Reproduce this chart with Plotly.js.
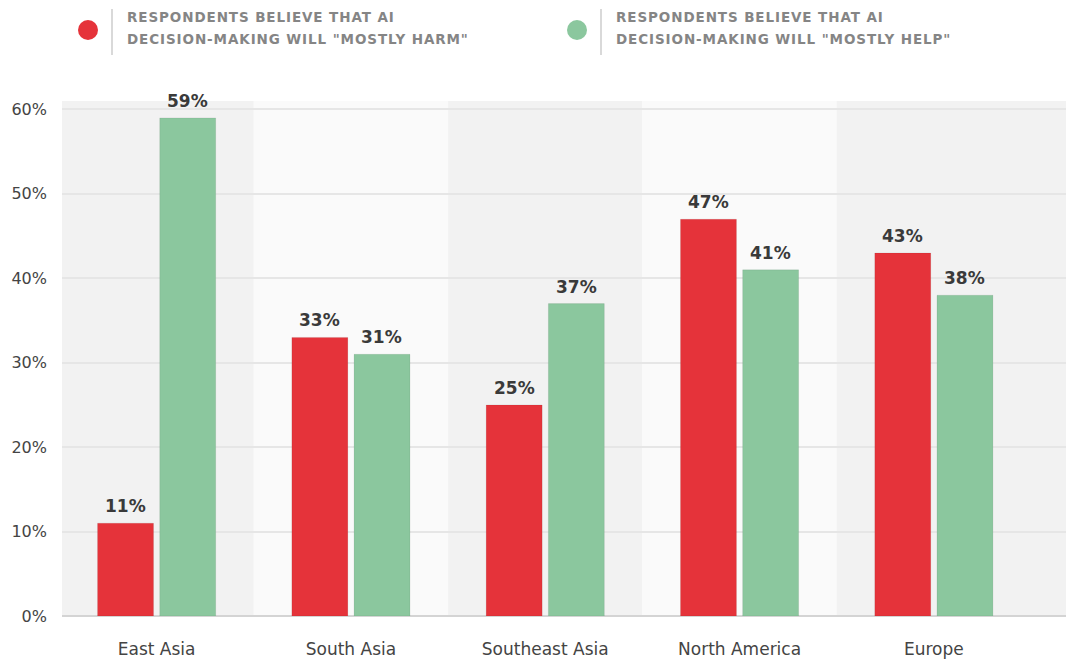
<!DOCTYPE html>
<html>
<head>
<meta charset="utf-8">
<script src="https://cdn.plot.ly/plotly-3.0.1.min.js"></script>
<style>html,body{margin:0;padding:0;background:#fff;}#chart{width:1068px;height:663px;}</style>
</head>
<body>
<div id="chart"></div>
<script>
const categories = ["East Asia", "South Asia", "Southeast Asia", "North America", "Europe"];
const harmValues = [11, 33, 25, 47, 43];
const helpValues = [59, 31, 37, 41, 38];
const seriesNames = [
  ['RESPONDENTS BELIEVE THAT AI', 'DECISION-MAKING WILL "MOSTLY HARM"'],
  ['RESPONDENTS BELIEVE THAT AI', 'DECISION-MAKING WILL "MOSTLY HELP"']
];
const tickVals = [0, 10, 20, 30, 40, 50, 60];
const tickText = ["0%", "10%", "20%", "30%", "40%", "50%", "60%"];
const colors = ["#e5333a", "#8bc79e"];

const FONT = "'DejaVu Sans', Lato, sans-serif";

const traces = [harmValues, helpValues].map((vals, i) => ({
  type: "bar",
  name: seriesNames[i].join(" "),
  x: categories,
  y: vals,
  marker: {color: colors[i], line: {color: "rgba(0,0,0,0.07)", width: 1}},
  hoverinfo: "skip",
  showlegend: false
}));

const shapes = [];
const annotations = [];
categories.forEach((c, i) => {
  shapes.push({
    type: "rect", xref: "x", yref: "paper", layer: "below",
    x0: i - 0.5, x1: (i === categories.length - 1) ? 4.8 : i + 0.5, y0: 0, y1: 1,
    fillcolor: i % 2 === 0 ? "#f2f2f2" : "#fafafa", line: {width: 0}
  });
});

// value labels above each bar
[harmValues, helpValues].forEach((vals, s) => {
  vals.forEach((v, i) => {
    annotations.push({
      xref: "x", yref: "y", x: categories[i], y: v,
      xshift: s === 0 ? -31 : 31, yshift: 5,
      xanchor: "center", yanchor: "bottom", showarrow: false,
      text: v + "%",
      font: {family: FONT, size: 17, color: "#3a3a3a", weight: 700}
    });
  });
});

const W = 1068, H = 663, L = 62, R = 2, T = 101, B = 47;
const pw = W - L - R, ph = H - T - B;
const px = x => (x - L) / pw;
const py = y => 1 - (y - T) / ph;
const legendX = [88, 577];
legendX.forEach((lx, i) => {
  shapes.push({type: "circle", xref: "paper", yref: "paper",
    x0: px(lx - 10), x1: px(lx + 10), y0: py(40), y1: py(20),
    fillcolor: colors[i], line: {width: 0}});
  shapes.push({type: "line", xref: "paper", yref: "paper",
    x0: px(lx + 24), x1: px(lx + 24), y0: py(9), y1: py(55),
    line: {color: "#cccccc", width: 1.5}});
  seriesNames[i].forEach((line, k) => {
    annotations.push({xref: "paper", yref: "paper", x: px(lx + 37), y: py(k === 0 ? 17.5 : 39.5),
      xanchor: "left", yanchor: "middle", align: "left", showarrow: false,
      text: line, name: "legendtext",
      font: {family: FONT, size: 13.5, color: "#858585", weight: 700}});
  });
});

const layout = {
  width: W, height: H,
  margin: {l: L, r: R, t: T, b: B},
  paper_bgcolor: "#ffffff",
  plot_bgcolor: "rgba(0,0,0,0)",
  barmode: "group",
  bargap: 0.36,
  bargroupgap: 0.1,
  font: {family: FONT, color: "#444444", size: 15},
  xaxis: {
    type: "category",
    range: [-0.487, 4.68],
    showgrid: false,
    zeroline: false,
    showline: false,
    ticks: "",
    ticklabelstandoff: 21,
    tickfont: {family: FONT, size: 17, color: "#444444"}
  },
  yaxis: {
    range: [0, 61],
    tickvals: tickVals,
    ticktext: tickText,
    showgrid: true,
    gridcolor: "#e6e6e6",
    gridwidth: 2,
    zeroline: true,
    zerolinecolor: "#d4d4d4",
    zerolinewidth: 2,
    ticks: "",
    ticklabelstandoff: 14,
    tickfont: {family: FONT, size: 16, color: "#444444"}
  },
  shapes: shapes,
  annotations: annotations
};

Plotly.newPlot("chart", traces, layout, {displayModeBar: false, staticPlot: true}).then(gd => {
  gd.querySelectorAll(".annotation-text").forEach(t => {
    const s = t.textContent;
    if (s.indexOf("RESPONDENTS") === 0 || s.indexOf("DECISION") === 0) t.style.letterSpacing = "0.9px";
  });
});
</script>
</body>
</html>
